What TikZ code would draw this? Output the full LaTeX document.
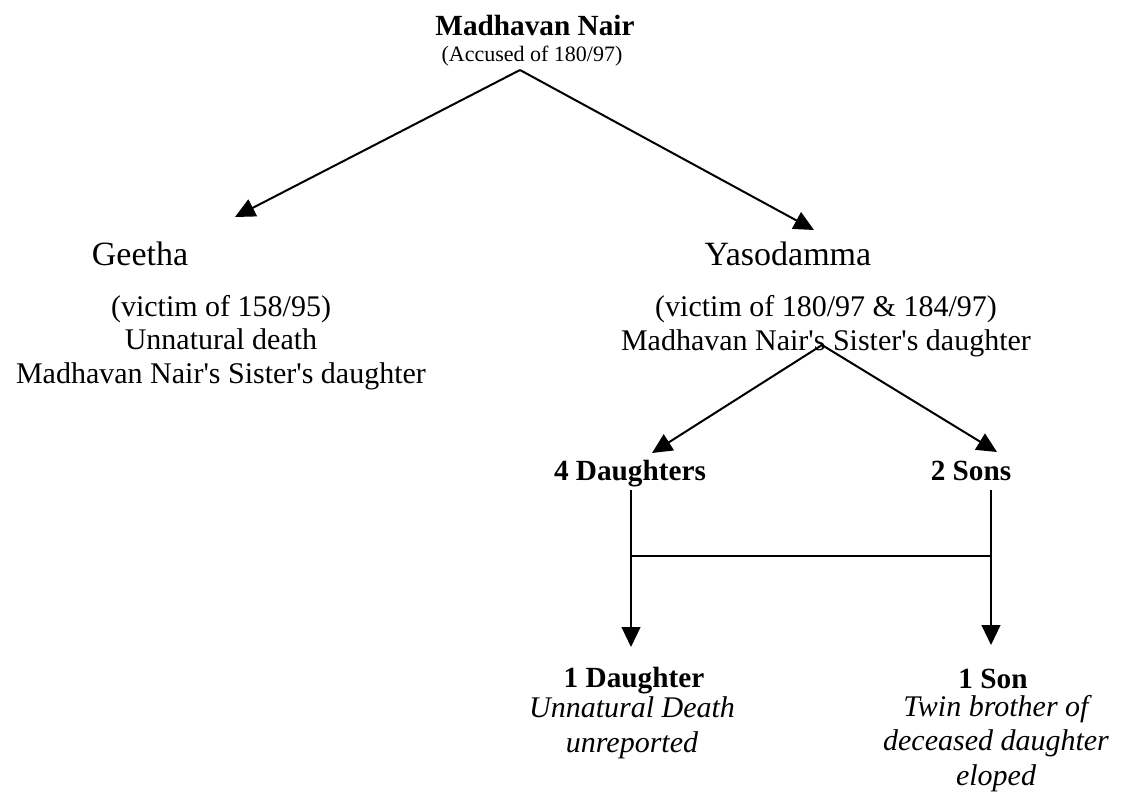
\documentclass[tikz,border=0pt]{standalone}
\usepackage{fontspec}
\setmainfont{Liberation Serif}[Ligatures=TeXOff]
\usetikzlibrary{arrows.meta}
\begin{document}
\begin{tikzpicture}[x=0.4pt,y=-0.4pt]

\tikzset{myarrow/.style={-{Triangle[length=8pt,width=7.5pt]}, line width=0.8pt}}
\tikzset{myline/.style={line width=0.8pt}}
\tikzset{mytext/.style={inner sep=0pt, anchor=base, align=center, font=\fontsize{12}{13.4}\selectfont}}
\tikzset{mybold/.style={mytext, font=\fontsize{11.7}{13.4}\selectfont\bfseries}}
\tikzset{myname/.style={mytext, font=\fontsize{13.6}{16}\selectfont}}
\tikzset{myitalic/.style={mytext, font=\fontsize{12}{13.7}\selectfont\itshape}}

\useasboundingbox (0,0) rectangle (1121,795);

% base of a node with several lines = baseline of its last line
\node[mybold] (nair) at (535,35) {Madhavan Nair};
\node[mytext, font=\fontsize{8.8}{10}\selectfont] (accused) at (532,61) {(Accused of 180/97)};

\node[myname] (geetha) at (140,265) {Geetha};
\node[mytext] (geethainfo) at (221,383) {(victim of 158/95)\\Unnatural death\\Madhavan Nair's Sister's daughter};

\node[myname] (yaso) at (788,265) {Yasodamma};
\node[mytext] (yasoinfo) at (826,350) {(victim of 180/97 \& 184/97)\\Madhavan Nair's Sister's daughter};

\node[mybold] (daughters) at (630,480) {4 Daughters};
\node[mybold] (sons) at (971,480) {2 Sons};

\node[mybold] (daughter) at (634,687) {1 Daughter};
\node[myitalic] (daughterinfo) at (632,752) {Unnatural Death\\unreported};

\node[mybold] (son) at (993,688) {1 Son};
\node[myitalic] (soninfo) at (996,785) {Twin brother of\\deceased daughter\\eloped};

% fork points and arrow ends
\coordinate (topfork) at (520,70);
\coordinate (geethatip) at (235,217);
\coordinate (yasotip) at (814,230);
\coordinate (midfork) at (822,345);
\coordinate (daughterstip) at (652,453);
\coordinate (sonstip) at (997,452);
\coordinate (dtop) at (631,490);
\coordinate (djoin) at (631,556);
\coordinate (dtip) at (631,647);
\coordinate (stop) at (991,490);
\coordinate (sjoin) at (991,556);
\coordinate (stip) at (991,645);

\draw[myarrow] (topfork) -- (geethatip);
\draw[myarrow] (topfork) -- (yasotip);
\draw[myarrow] (midfork) -- (daughterstip);
\draw[myarrow] (midfork) -- (sonstip);
\draw[myarrow] (dtop) -- (dtip);
\draw[myarrow] (stop) -- (stip);
\draw[myline] (djoin) -- (sjoin);

\end{tikzpicture}
\end{document}
